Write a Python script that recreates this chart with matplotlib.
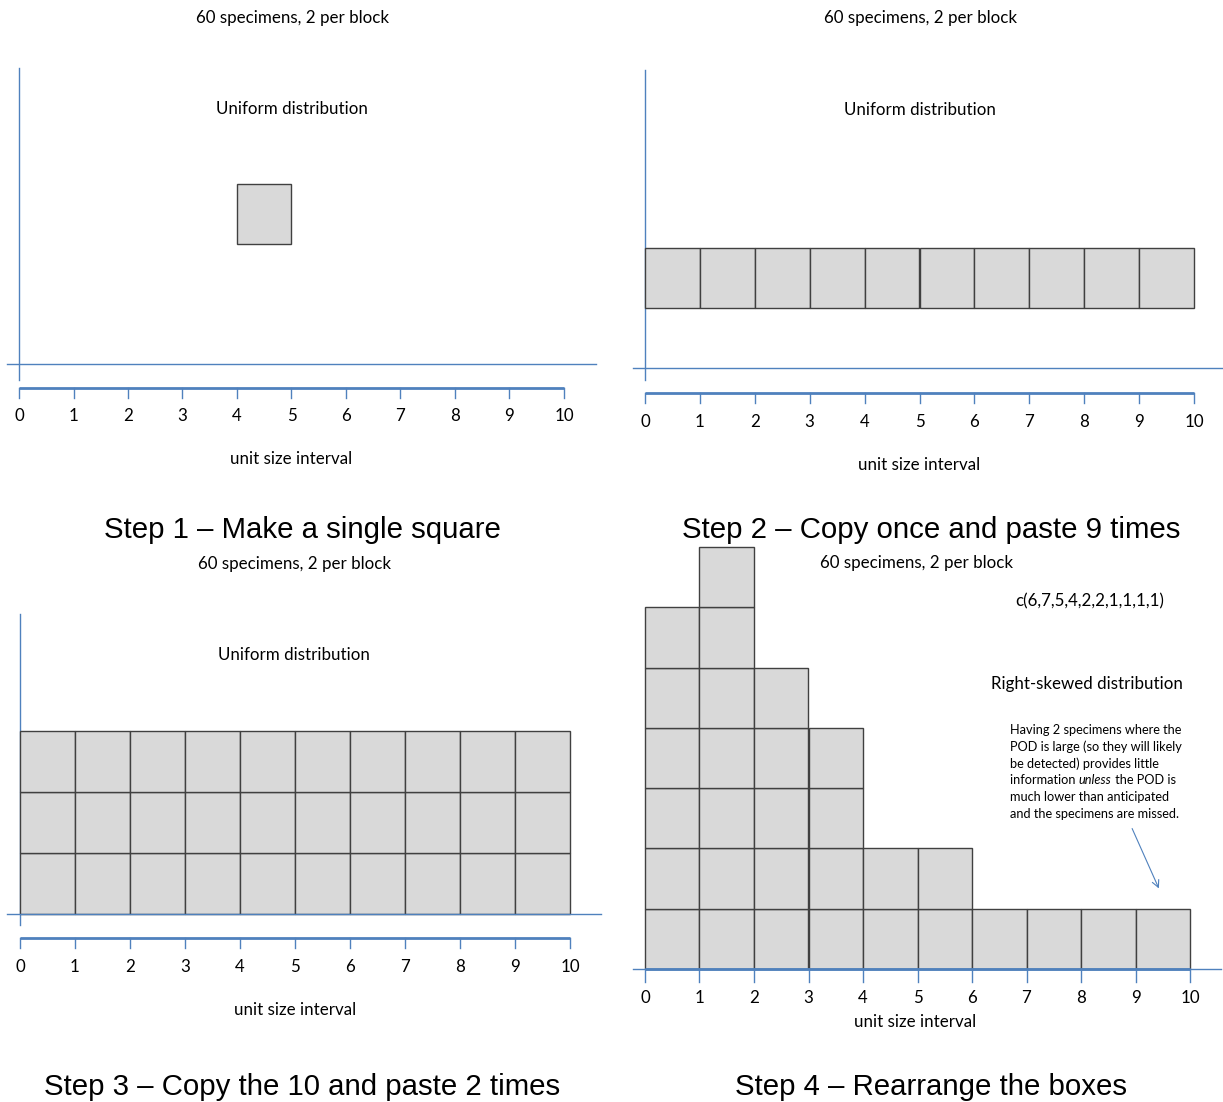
import matplotlib
matplotlib.use("Agg")
import matplotlib.pyplot as plt

# ---- data -------------------------------------------------------------
intervals = list(range(11))                      # ruler tick values 0..10
step1_counts = [0, 0, 0, 0, 1, 0, 0, 0, 0, 0]   # one square, lifted two levels
step1_base = 2
step2_counts = [1] * 10                          # one row of ten
step2_base = 1
step3_counts = [3] * 10                          # three rows of ten
step3_base = 0
step4_counts = [6, 7, 5, 4, 2, 2, 1, 1, 1, 1]    # right-skewed rearrangement
step4_base = 0

header = "60 specimens, 2 per block"
xlabel = "unit size interval"
captions = ["Step 1 \u2013 Make a single square",
            "Step 2 \u2013 Copy once and paste 9 times",
            "Step 3 \u2013 Copy the 10 and paste 2 times",
            "Step 4 \u2013 Rearrange the boxes"]
note_lines = ["Having 2 specimens where the",
              "POD is large (so they will likely",
              "be detected) provides little",
              None,
              "much lower than anticipated",
              "and the specimens are missed."]

# ---- style ------------------------------------------------------------
W, H = 1223, 1102
BLUE = "#4f81bd"
FILL = "#d9d9d9"
EDGE = "#404040"
BODY = "Lato"
CAP = "Liberation Sans"
YSHIFT = 2  # px nudge for centred text

fig = plt.figure(figsize=(W / 100, H / 100), dpi=100)


def fx(px):
    return px / W


def fy(py):
    return 1 - py / H


def make_panel(x0, x10, base, unit_h, ymax=8.5):
    ax = fig.add_axes([fx(x0), fy(base), (x10 - x0) / W, unit_h * ymax / H])
    ax.set_xlim(0, 10)
    ax.set_ylim(0, ymax)
    ax.axis("off")
    return ax


def blocks(ax, counts, base):
    for i, c in enumerate(counts):
        for j in range(c):
            ax.bar(i + 0.5, 1, bottom=base + j, width=1, color=FILL,
                   edgecolor=EDGE, linewidth=1.0, clip_on=False, zorder=2)


def ruler(ax, y, tick_len, label_y, xlabel_y, xlabel_x=5.0, lw=2.0):
    ax.plot([0, 10], [y, y], color=BLUE, lw=lw, clip_on=False,
            solid_capstyle="butt", zorder=3)
    for v in intervals:
        ax.plot([v, v], [y, y - tick_len], color=BLUE, lw=1.0, clip_on=False,
                zorder=3)
        ax.text(v, label_y, str(v), ha="center", va="center",
                fontsize=12.2, family=BODY, color="black")
    ax.text(xlabel_x, xlabel_y, xlabel, ha="center", va="center",
            fontsize=12.2, family=BODY, color="black")


def axes_lines(ax, x_lo, x_hi, v_lo=None, v_hi=None):
    ax.plot([x_lo, x_hi], [0, 0], color=BLUE, lw=1.0, clip_on=False, zorder=3)
    if v_lo is not None:
        ax.plot([0, 0], [v_lo, v_hi], color=BLUE, lw=1.0, clip_on=False,
                zorder=1)


def ftext(x, y, s, size=12.2, family=BODY, **kw):
    fig.text(fx(x), fy(y + YSHIFT), s, ha="center", va="center",
             fontsize=size, family=family, color="black", **kw)


CAP_SIZE = 21.2

# ---- Step 1 -----------------------------------------------------------
ax1 = make_panel(19, 564, 364, 60)
axes_lines(ax1, -0.22, 10.59, -0.27, 4.93)
blocks(ax1, step1_counts, step1_base)
ruler(ax1, -0.40, 0.17, -0.86, -1.58)
ftext(292, 16, header)
ftext(292, 107, "Uniform distribution")
ftext(302, 528, captions[0], size=CAP_SIZE, family=CAP)

# ---- Step 2 -----------------------------------------------------------
ax2 = make_panel(645, 1194, 368, 60)
axes_lines(ax2, -0.22, 10.53, -0.20, 4.97)
blocks(ax2, step2_counts, step2_base)
ruler(ax2, -0.42, 0.16, -0.90, -1.61)
ftext(920, 16, header)
ftext(920, 108, "Uniform distribution")
ftext(931, 528, captions[1], size=CAP_SIZE, family=CAP)

# ---- Step 3 -----------------------------------------------------------
ax3 = make_panel(20, 570, 914, 61)
axes_lines(ax3, -0.24, 10.56, -0.18, 4.92)
blocks(ax3, step3_counts, step3_base)
ruler(ax3, -0.39, 0.17, -0.87, -1.57)
ftext(294, 562, header)
ftext(294, 653, "Uniform distribution")
ftext(302, 1085, captions[2], size=CAP_SIZE, family=CAP)

# ---- Step 4 -----------------------------------------------------------
ax4 = make_panel(645, 1190, 969, 60.3)
axes_lines(ax4, -0.22, 10.57)
blocks(ax4, step4_counts, step4_base)
ruler(ax4, 0.0, 0.22, -0.48, -0.88, xlabel_x=4.95)
ftext(917, 561, header)
ftext(1090, 599, "c(" + ",".join(str(c) for c in step4_counts) + ")")
ftext(1087, 682, "Right-skewed distribution")
ftext(931, 1085, captions[3], size=CAP_SIZE, family=CAP)

# explanatory note with an italic word on its fourth line
note_x, note_y0, note_dy = 1010, 730, 16.8
note_size = 9.2
for k, line in enumerate(note_lines):
    yy = fy(note_y0 + k * note_dy)
    if line is not None:
        fig.text(fx(note_x), yy, line, ha="left", va="center",
                 fontsize=note_size, family=BODY)
renderer = fig.canvas.get_renderer()
yy = fy(note_y0 + 3 * note_dy)
cur = fx(note_x)
for piece, style in [("information ", "normal"), ("unless", "italic"),
                     (" the POD is", "normal")]:
    t = fig.text(cur, yy, piece, ha="left", va="center", fontsize=note_size,
                 family=BODY, style=style)
    bb = t.get_window_extent(renderer=renderer)
    cur += bb.width / W

fig.patches.append(matplotlib.patches.FancyArrowPatch(
    (fx(1131), fy(826)), (fx(1160), fy(891)), transform=fig.transFigure,
    arrowstyle="->,head_length=5,head_width=2.5", color=BLUE, lw=0.8))

fig.savefig("out.png", dpi=100)
